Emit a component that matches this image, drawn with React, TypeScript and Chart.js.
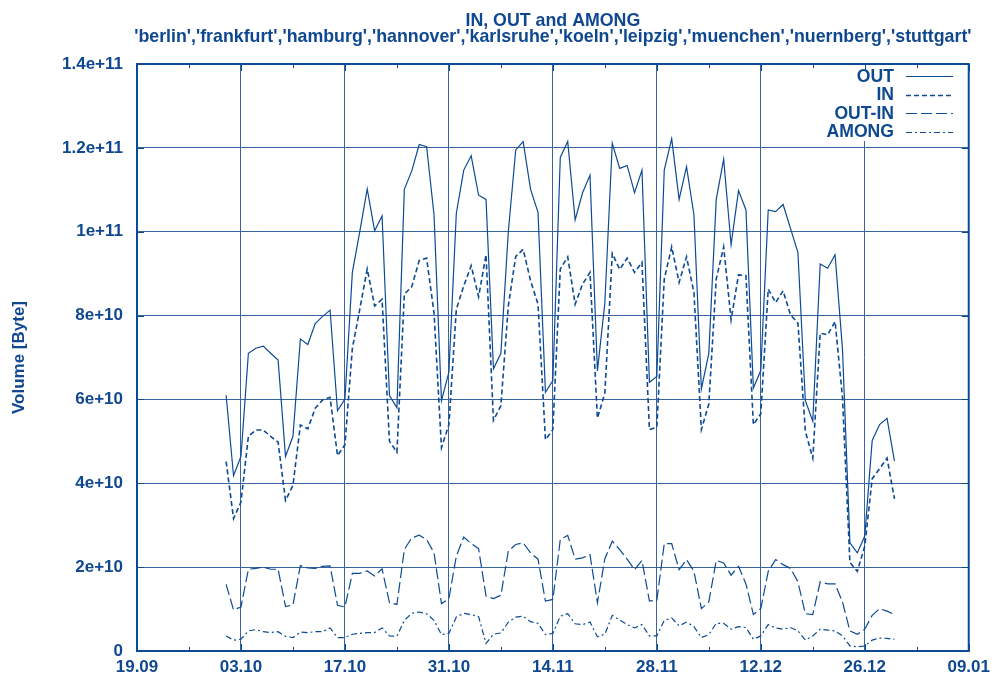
import React, { useEffect, useRef } from 'react';
import { Chart, registerables } from 'chart.js';

Chart.register(...registerables);

const TITLE = 'IN, OUT and AMONG';
const SUBTITLE = "'berlin','frankfurt','hamburg','hannover','karlsruhe','koeln','leipzig','muenchen','nuernberg','stuttgart'";
const Y_TITLE = 'Volume [Byte]';

// x axis: days after 19.09; ticks every 14 days
const X_TICK_LABELS = ['19.09', '03.10', '17.10', '31.10', '14.11', '28.11', '12.12', '26.12', '09.01'];
const X_STEP = 14;
const X_MINOR_STEP = 7;
const FIRST_DAY = 12; // 01.10 = first sample (daily samples)

// y axis in units of 1e10 Byte
const Y_TICK_LABELS = ['0', '2e+10', '4e+10', '6e+10', '8e+10', '1e+11', '1.2e+11', '1.4e+11'];
const Y_STEP = 2;

const SERIES_NAMES = ['OUT', 'IN', 'OUT-IN', 'AMONG'];

const OUT = [
  6.10, 4.18, 4.64, 7.10, 7.22, 7.27, 7.10,
  6.94, 4.64, 5.12, 7.44, 7.31, 7.81, 7.98,
  8.13, 5.73, 6.01, 9.03, 10.00, 11.02, 10.02,
  10.38, 6.09, 5.80, 11.01, 11.45, 12.08, 12.03,
  10.40, 5.97, 6.65, 10.44, 11.47, 11.81, 10.87,
  10.77, 6.73, 7.10, 10.00, 11.95, 12.15, 11.01,
  10.46, 6.17, 6.45, 11.77, 12.15, 10.28, 10.93,
  11.35, 6.68, 8.30, 12.11, 11.51, 11.58, 10.93,
  11.47, 6.41, 6.55, 11.47, 12.22, 10.77, 11.55,
  10.40, 6.25, 7.10, 10.77, 11.73, 9.69, 10.98,
  10.52, 6.27, 6.69, 10.52, 10.48, 10.65, 10.08,
  9.50, 5.97, 5.48, 9.23, 9.13, 9.45, 7.20,
  2.58, 2.34, 2.74, 5.02, 5.40, 5.55, 4.53,
];

const IN = [
  4.52, 3.16, 3.55, 5.12, 5.27, 5.27, 5.12,
  4.98, 3.59, 3.95, 5.39, 5.30, 5.79, 5.99,
  6.05, 4.66, 4.92, 7.22, 8.15, 9.11, 8.23,
  8.39, 5.00, 4.74, 8.51, 8.69, 9.31, 9.37,
  8.06, 4.85, 5.40, 8.15, 8.71, 9.19, 8.45,
  9.45, 5.50, 5.85, 8.23, 9.41, 9.58, 8.83,
  8.27, 5.04, 5.28, 9.11, 9.40, 8.27, 8.75,
  9.03, 5.55, 6.15, 9.48, 9.10, 9.37, 9.03,
  9.27, 5.28, 5.34, 8.87, 9.64, 8.79, 9.40,
  8.55, 5.28, 5.89, 8.87, 9.64, 7.90, 8.97,
  8.95, 5.40, 5.66, 8.63, 8.31, 8.59, 8.02,
  7.82, 5.24, 4.60, 7.58, 7.54, 7.86, 6.05,
  2.11, 1.90, 2.50, 4.11, 4.35, 4.60, 3.63,
];

const OUT_IN = [
  1.59, 0.98, 1.05, 1.95, 1.97, 2.00, 1.95,
  1.95, 1.06, 1.10, 2.04, 1.98, 1.97, 2.02,
  2.03, 1.09, 1.05, 1.85, 1.85, 1.91, 1.79,
  1.96, 1.15, 1.11, 2.42, 2.70, 2.76, 2.66,
  2.34, 1.13, 1.25, 2.26, 2.72, 2.56, 2.44,
  1.31, 1.25, 1.33, 2.38, 2.54, 2.58, 2.34,
  2.19, 1.19, 1.23, 2.66, 2.76, 2.19, 2.22,
  2.30, 1.15, 2.20, 2.62, 2.42, 2.19, 1.94,
  2.16, 1.19, 1.21, 2.56, 2.56, 1.94, 2.18,
  1.90, 1.01, 1.17, 2.16, 2.10, 1.81, 2.02,
  1.60, 0.87, 1.01, 1.90, 2.18, 2.06, 1.97,
  1.65, 0.89, 0.87, 1.65, 1.60, 1.60, 1.17,
  0.48, 0.40, 0.52, 0.85, 1.01, 0.95, 0.87,
];

const AMONG = [
  0.36, 0.26, 0.28, 0.48, 0.51, 0.46, 0.44,
  0.46, 0.35, 0.32, 0.45, 0.44, 0.46, 0.46,
  0.55, 0.32, 0.32, 0.40, 0.42, 0.44, 0.44,
  0.55, 0.36, 0.35, 0.73, 0.90, 0.93, 0.89,
  0.73, 0.39, 0.42, 0.81, 0.90, 0.87, 0.82,
  0.18, 0.40, 0.43, 0.69, 0.81, 0.83, 0.70,
  0.66, 0.39, 0.42, 0.83, 0.89, 0.65, 0.63,
  0.69, 0.34, 0.40, 0.85, 0.74, 0.63, 0.55,
  0.63, 0.36, 0.36, 0.73, 0.79, 0.60, 0.69,
  0.58, 0.32, 0.39, 0.66, 0.66, 0.52, 0.58,
  0.56, 0.28, 0.36, 0.63, 0.55, 0.52, 0.56,
  0.48, 0.26, 0.36, 0.52, 0.50, 0.48, 0.36,
  0.12, 0.10, 0.12, 0.26, 0.31, 0.30, 0.28,
];

const LINE_COLOR = '#0c4a93';
const TEXT_COLOR = '#0f4890';
const GRID_COLOR = '#3a64a0';
const FONT_FAMILY = '"Liberation Sans", Arial, Helvetica, sans-serif';

const toPoints = (vals: number[]) => vals.map((v, i) => ({ x: FIRST_DAY + i, y: v }));

const decorPlugin = {
  id: 'gnuplotDecor',
  beforeDatasetsDraw(chart: any) {
    const { ctx, chartArea: a, scales } = chart;
    const xs = scales.x;
    const ys = scales.y;
    ctx.save();
    // opaque key box
    ctx.fillStyle = '#ffffff';
    ctx.fillRect(815, a.top + 1, a.right - 816, 76);
    // inward tick marks
    ctx.strokeStyle = LINE_COLOR;
    ctx.lineWidth = 1;
    ctx.beginPath();
    for (let d = 0; d <= xs.max; d += X_MINOR_STEP) {
      const px = Math.round(xs.getPixelForValue(d)) + 0.5;
      const len = d % X_STEP === 0 ? 7 : 4;
      ctx.moveTo(px, a.bottom);
      ctx.lineTo(px, a.bottom - len);
      ctx.moveTo(px, a.top);
      ctx.lineTo(px, a.top + len);
    }
    for (let v = 0; v <= ys.max; v += Y_STEP) {
      const py = Math.round(ys.getPixelForValue(v)) + 0.5;
      ctx.moveTo(a.left, py);
      ctx.lineTo(a.left + 7, py);
      ctx.moveTo(a.right, py);
      ctx.lineTo(a.right - 7, py);
    }
    ctx.stroke();
    ctx.restore();
  },
  afterDraw(chart: any) {
    const { ctx, chartArea: a } = chart;
    ctx.save();
    // frame
    ctx.strokeStyle = LINE_COLOR;
    ctx.lineWidth = 2;
    ctx.setLineDash([]);
    ctx.strokeRect(a.left, a.top, a.right - a.left, a.bottom - a.top);

    // title
    const cx = (a.left + a.right) / 2;
    ctx.fillStyle = TEXT_COLOR;
    ctx.font = `bold 17.8px ${FONT_FAMILY}`;
    ctx.textAlign = 'center';
    ctx.textBaseline = 'alphabetic';
    ctx.fillText(TITLE, cx, 25.5);
    ctx.fillText(SUBTITLE, cx, 42);

    // key
    ctx.font = `bold 17.6px ${FONT_FAMILY}`;
    ctx.textAlign = 'right';
    ctx.textBaseline = 'middle';
    chart.data.datasets.forEach((ds: any, i: number) => {
      const y = 76 + i * 18.5;
      ctx.fillStyle = TEXT_COLOR;
      ctx.fillText(ds.label, 894, y + 1);
      ctx.strokeStyle = ds.borderColor;
      ctx.lineWidth = ds.borderWidth;
      ctx.setLineDash(ds.borderDash || []);
      ctx.beginPath();
      ctx.moveTo(906, Math.round(y) + 0.5);
      ctx.lineTo(953, Math.round(y) + 0.5);
      ctx.stroke();
    });
    ctx.restore();
  },
};

export default function App() {
  const ref = useRef<HTMLCanvasElement>(null);

  useEffect(() => {
    const canvas = ref.current;
    if (!canvas) return;
    const font = { family: FONT_FAMILY, size: 17, weight: 'bold' as const };
    const gridColor = (c: any) =>
      c.tick && (c.tick.value === c.scale.min || c.tick.value === c.scale.max) ? 'rgba(0,0,0,0)' : GRID_COLOR;

    const chart = new Chart(canvas, {
      type: 'line',
      data: {
        datasets: [
          { label: SERIES_NAMES[0], data: toPoints(OUT), borderColor: LINE_COLOR, borderWidth: 1.2, borderDash: [] },
          { label: SERIES_NAMES[1], data: toPoints(IN), borderColor: LINE_COLOR, borderWidth: 1.6, borderDash: [5, 3] },
          { label: SERIES_NAMES[2], data: toPoints(OUT_IN), borderColor: LINE_COLOR, borderWidth: 1.2, borderDash: [11, 4] },
          { label: SERIES_NAMES[3], data: toPoints(AMONG), borderColor: LINE_COLOR, borderWidth: 1.2, borderDash: [6, 3, 2, 3] },
        ] as any,
      },
      options: {
        animation: false,
        responsive: false,
        devicePixelRatio: 1,
        events: [],
        layout: { padding: { top: 64, right: 21, left: 0, bottom: 0 } },
        elements: { point: { radius: 0 }, line: { tension: 0, fill: false } },
        plugins: { legend: { display: false }, title: { display: false }, tooltip: { enabled: false } },
        scales: {
          x: {
            type: 'linear',
            min: 0,
            max: X_STEP * (X_TICK_LABELS.length - 1),
            afterFit: (s: any) => { s.height = 28; },
            border: { display: false },
            grid: { color: gridColor, lineWidth: 1, drawTicks: false },
            ticks: {
              stepSize: X_STEP,
              autoSkip: false,
              maxRotation: 0,
              padding: 6,
              color: TEXT_COLOR,
              font,
              callback: (v: any) => X_TICK_LABELS[Math.round(Number(v) / X_STEP)] ?? '',
            },
          },
          y: {
            type: 'linear',
            min: 0,
            max: Y_STEP * (Y_TICK_LABELS.length - 1),
            afterFit: (s: any) => { s.width = 137; },
            border: { display: false },
            grid: { color: gridColor, lineWidth: 1, drawTicks: false },
            title: { display: true, text: Y_TITLE, color: TEXT_COLOR, font, padding: { top: 9, bottom: 0 } },
            ticks: {
              stepSize: Y_STEP,
              padding: 14,
              color: TEXT_COLOR,
              font,
              callback: (v: any) => Y_TICK_LABELS[Math.round(Number(v) / Y_STEP)] ?? '',
            },
          },
        },
      } as any,
      plugins: [decorPlugin],
    });
    return () => chart.destroy();
  }, []);

  return (
    <div style={{ position: 'absolute', left: 0, top: 0, width: 996, height: 679, background: '#ffffff' }}>
      <canvas ref={ref} width={996} height={679} style={{ display: 'block', width: 996, height: 679 }} />
    </div>
  );
}
